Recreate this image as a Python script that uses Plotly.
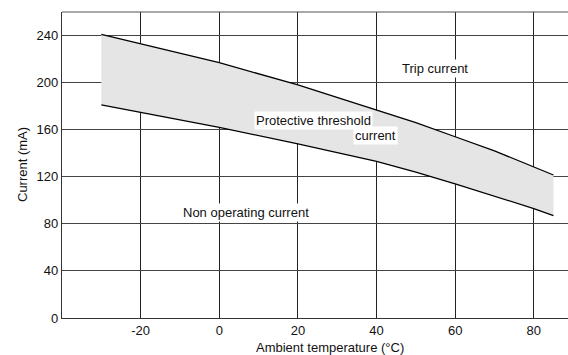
import plotly.graph_objects as go

# Data
trip_temp = [-30, 0, 20, 40, 50, 60, 70, 85]
trip_current = [241, 217, 198, 176.5, 166, 154, 142, 121.5]
nonop_temp = [-30, 0, 20, 40, 50, 60, 80, 85]
nonop_current = [181, 162, 148, 133, 124, 114, 93, 87]

x_ticks = [-20, 0, 20, 40, 60, 80]
y_ticks = [0, 40, 80, 120, 160, 200, 240]

FONT = "Liberation Sans, Arial, sans-serif"
FS = 13

fig = go.Figure()

# Shaded band between the curves (protective threshold region)
band_x = trip_temp + nonop_temp[::-1]
band_y = trip_current + nonop_current[::-1]
fig.add_trace(go.Scatter(x=band_x, y=band_y, fill="toself", fillcolor="#e5e5e5",
                         line=dict(width=0), mode="lines", hoverinfo="skip",
                         showlegend=False))
fig.add_trace(go.Scatter(x=trip_temp, y=trip_current, mode="lines",
                         line=dict(color="black", width=1.3), showlegend=False))
fig.add_trace(go.Scatter(x=nonop_temp, y=nonop_current, mode="lines",
                         line=dict(color="black", width=1.3), showlegend=False))

ann_font = dict(family=FONT, size=FS, color="#111")
annotations = [
    dict(x=54.9, y=211.7, text="Trip current"),
    dict(x=24.0, y=167.7, text="Protective threshold"),
    dict(x=39.8, y=154.9, text="current"),
    dict(x=6.9, y=89.6, text="Non operating current"),
]
for a in annotations:
    fig.add_annotation(x=a["x"], y=a["y"], text=a["text"], showarrow=False,
                       font=ann_font, bgcolor="white", borderpad=1,
                       xanchor="center", yanchor="middle")

# Axis titles as annotations for exact placement
fig.add_annotation(x=28.1, xref="x", y=0, yref="paper", yshift=-29,
                   text="Ambient temperature (°C)", showarrow=False,
                   font=ann_font, xanchor="center", yanchor="middle")
fig.add_annotation(x=0, xref="paper", xshift=-40, y=0.5, yref="paper",
                   text="Current (mA)", showarrow=False, textangle=-90,
                   font=ann_font, xanchor="center", yanchor="middle")

fig.update_layout(
    width=568, height=355,
    margin=dict(l=62, r=0, t=12, b=37),
    paper_bgcolor="white", plot_bgcolor="white",
    font=dict(family=FONT, size=FS, color="#111"),
)
fig.update_xaxes(range=[-40, 88.7], tickvals=x_ticks, ticktext=[str(v) for v in x_ticks],
                 showgrid=True, gridcolor="#222", gridwidth=1,
                 showline=True, linecolor="#333", linewidth=1.2, mirror=False,
                 zeroline=False, ticks="", ticklen=0, automargin=False)
fig.update_yaxes(range=[0, 260], tickvals=y_ticks, ticktext=[str(v) for v in y_ticks],
                 showgrid=True, gridcolor="#444", gridwidth=1,
                 showline=True, linecolor="#333", linewidth=1.2,
                 zeroline=False, ticks="", ticklen=0, automargin=False)
# top border line
fig.add_shape(type="line", xref="paper", yref="paper", x0=0, x1=1, y0=1, y1=1,
              line=dict(color="#555", width=1.2))

fig.write_html("out.html", config={"displayModeBar": False},
               post_script="document.body.style.margin='0';document.body.style.overflow='hidden';")
